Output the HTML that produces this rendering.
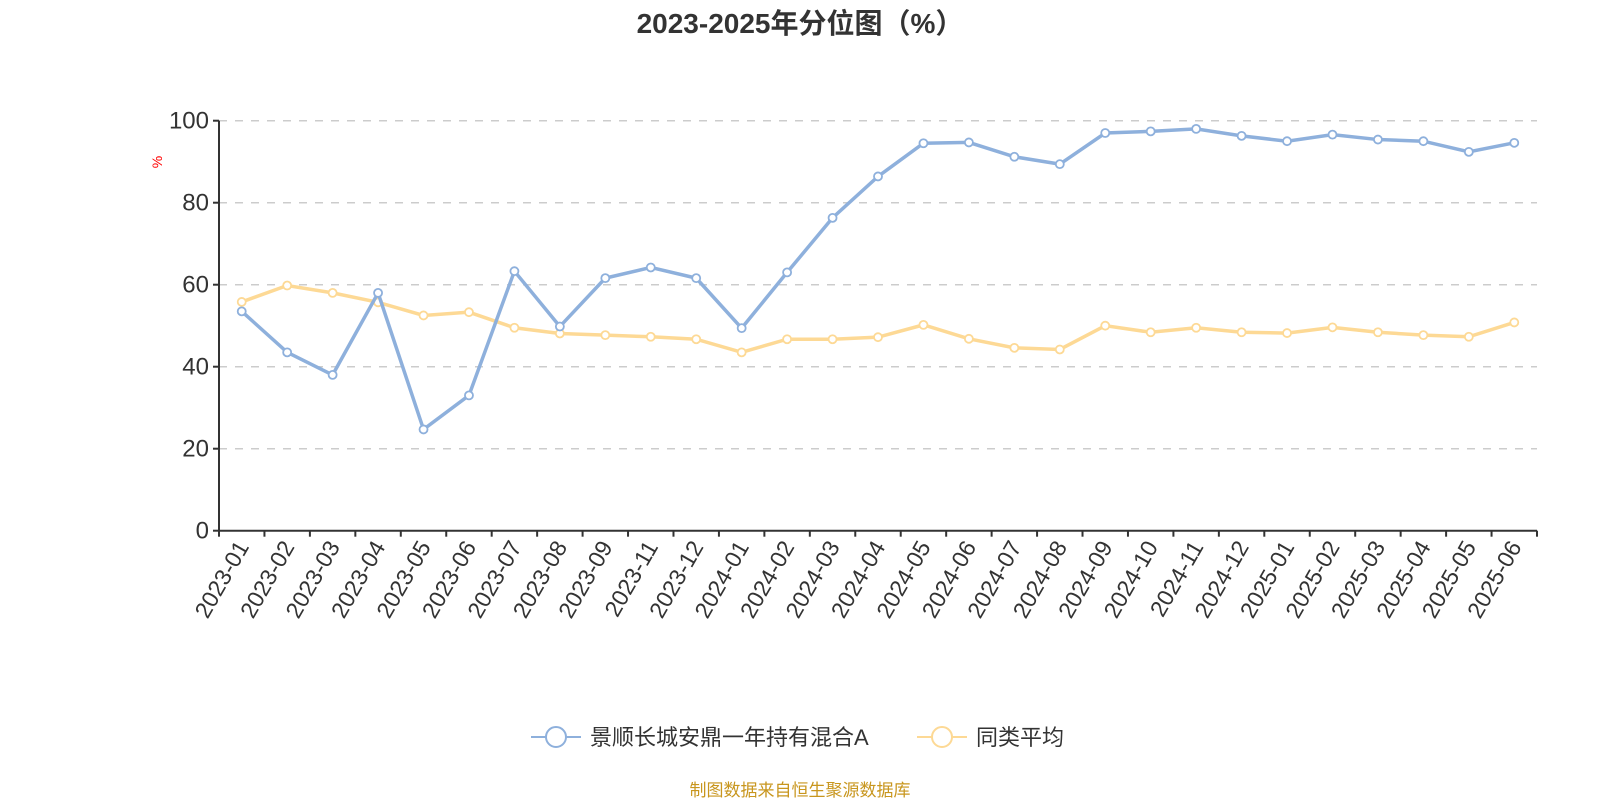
<!DOCTYPE html>
<html><head><meta charset="utf-8"><style>
body{margin:0;background:#fff;font-family:"Liberation Sans","Noto Sans CJK SC",sans-serif}
</style></head><body>
<svg width="1600" height="800" xmlns="http://www.w3.org/2000/svg" font-family="Liberation Sans, Noto Sans CJK SC, sans-serif">
<text x="800" y="33" text-anchor="middle" font-size="28" font-weight="bold" fill="#333">2023-2025年分位图（%）</text>
<text x="0" y="0" transform="translate(162,162) rotate(-90)" text-anchor="middle" font-size="14" fill="red">%</text>
<g id="grid"></g><g id="axes"></g><g id="series"></g>
<g>
<g><line x1="531" y1="737" x2="581" y2="737" stroke="#8eb0dc" stroke-width="2"/><circle cx="556" cy="737" r="10" fill="#fff" stroke="#8eb0dc" stroke-width="2"/><text x="590" y="745" font-size="22" fill="#333">景顺长城安鼎一年持有混合A</text></g>
<g><line x1="917" y1="737" x2="967" y2="737" stroke="#fdd995" stroke-width="2"/><circle cx="942" cy="737" r="10" fill="#fff" stroke="#fdd995" stroke-width="2"/><text x="976" y="745" font-size="22" fill="#333">同类平均</text></g>
</g>
<text x="800" y="796" text-anchor="middle" font-size="17" fill="#c8961e">制图数据来自恒生聚源数据库</text>
</svg>
<script>
const categories=["2023-01","2023-02","2023-03","2023-04","2023-05","2023-06","2023-07","2023-08","2023-09","2023-11","2023-12","2024-01","2024-02","2024-03","2024-04","2024-05","2024-06","2024-07","2024-08","2024-09","2024-10","2024-11","2024-12","2025-01","2025-02","2025-03","2025-04","2025-05","2025-06"];
const fundValues=[53.5,43.5,38,58,24.7,33,63.3,49.8,61.6,64.2,61.6,49.4,63,76.3,86.4,94.5,94.7,91.2,89.4,97,97.4,98,96.3,95,96.6,95.4,95,92.4,94.6];
const avgValues=[55.8,59.8,58,55.7,52.5,53.3,49.5,48.1,47.7,47.3,46.7,43.5,46.7,46.7,47.2,50.2,46.8,44.6,44.2,50,48.4,49.5,48.4,48.2,49.6,48.4,47.7,47.3,50.8];
const yTicks=[0,20,40,60,80,100];
const NS="http://www.w3.org/2000/svg";
const L=219,R=1537,T=120.7,B=530.7;
const band=(R-L)/categories.length;
const xs=i=>L+band*(i+0.5);
const ys=v=>B-(v/100)*(B-T);
function mk(tag,attrs,parent){const e=document.createElementNS(NS,tag);for(const k in attrs)e.setAttribute(k,attrs[k]);parent.appendChild(e);return e;}
const grid=document.getElementById('grid'),axes=document.getElementById('axes'),ser=document.getElementById('series');
yTicks.forEach(t=>{
 if(t>0){const g=mk('line',{x1:L,x2:R,y1:ys(t),y2:ys(t),stroke:'#ccc','stroke-width':1.5,'stroke-dasharray':'8,8'},grid);
 
 }
 mk('line',{x1:L-6,x2:L,y1:ys(t),y2:ys(t),stroke:'#333','stroke-width':2},axes);
 const tx=mk('text',{x:L-10,y:ys(t)+8,'text-anchor':'end','font-size':24,fill:'#333'},axes);tx.textContent=t;
 
 
});
const ya=mk('line',{x1:L,x2:L,y1:T,y2:B,stroke:'#333','stroke-width':2},axes);


const xa=mk('line',{x1:L,x2:R,y1:B,y2:B,stroke:'#333','stroke-width':2},axes);


for(let i=0;i<=categories.length;i++)mk('line',{x1:L+band*i,x2:L+band*i,y1:B,y2:B+6,stroke:'#333','stroke-width':2},axes);
categories.forEach((c,i)=>{
 const x=xs(i)+8,y=B+16;
 const tx=mk('text',{x:x,y:y,transform:`rotate(-60 ${x} ${y})`,'text-anchor':'end','font-size':23,fill:'#333'},axes);tx.textContent=c;
 
 
});
function series(vals,color,name){
 const p=mk('polyline',{points:vals.map((v,i)=>xs(i)+','+ys(v)).join(' '),fill:'none',stroke:color,'stroke-width':3.5},ser);
 
 
 vals.forEach((v,i)=>{const c=mk('circle',{cx:xs(i),cy:ys(v),r:4,fill:'#fff',stroke:color,'stroke-width':1.8},ser);
 
 });
}
series(avgValues,'#fdd995','average');
series(fundValues,'#8eb0dc','fund');
</script>
</body></html>
